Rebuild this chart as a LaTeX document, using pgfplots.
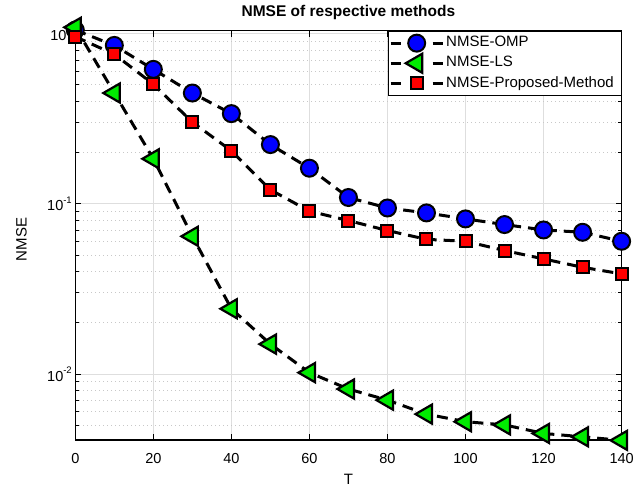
\documentclass[border=0pt]{standalone}
\usepackage{fontspec}
\setmainfont{Liberation Sans}
\usepackage{pgfplots}
\pgfplotsset{compat=1.18}
\definecolor{mgreen}{RGB}{0,235,0}
\definecolor{gridgray}{RGB}{222,222,222}
\definecolor{minorgray}{RGB}{200,200,200}

\begin{document}
\begin{tikzpicture}
\useasboundingbox (-75.3pt,-47pt) rectangle (557.7pt,440pt);
\clip (-75.3pt,-47pt) rectangle (557.7pt,440pt);
\fill[white] (-75.3pt,-47pt) rectangle (557.7pt,440pt);
\begin{axis}[
  at={(0pt,0pt)}, anchor=south west,
  scale only axis, width=546.3pt, height=409.3pt,
  ymode=log, log basis y=10,
  xmin=0, xmax=140, ymin=0.0041, ymax=1.041,
  xtick={0,20,...,140},
  /pgf/number format/assume math mode=true,
  yticklabel={\pgfmathtruncatemacro\e{round(\tick)}10\raisebox{7.5pt}{\fontsize{9.5}{10}\selectfont\e}},
  tick label style={font=\fontsize{14.5}{16}\selectfont, black},
  xticklabel style={anchor=base, yshift=-23.3pt},
  title={NMSE of respective methods},
  title style={font=\fontsize{15.5}{18}\selectfont\bfseries, at={(0.5,1)}, anchor=base, yshift=8pt},
  xlabel={T},
  xlabel style={font=\fontsize{15}{17}\selectfont, at={(axis description cs:0.5,0)}, anchor=base, yshift=-44.5pt},
  ylabel={NMSE},
  ylabel style={font=\fontsize{15}{17}\selectfont, at={(axis description cs:-0.089,0.49)}, anchor=base, rotate=0},
  axis line style={black, line width=1.3pt},
  tick style={black, line width=1pt},
  major tick length=6pt, minor tick length=3.7pt,
  xmajorgrids=true, ymajorgrids=true, yminorgrids=true,
  major grid style={gridgray, line width=1.1pt},
  minor grid style={minorgray, line width=0.9pt, dash pattern=on 1pt off 3pt},
  clip=false,
  legend style={at={(1,1)}, anchor=north east, draw=black, line width=0.8pt,
    fill=white, font=\fontsize{15}{17}\selectfont,
    inner xsep=1pt, inner ysep=2pt, row sep=0pt,
    nodes={inner xsep=2pt, inner ysep=3.1pt, text height=10.7pt, text depth=3.2pt}},
  legend cell align=left,
  legend image code/.code={%
    \draw[#1,solid] (0pt,0pt) -- (10pt,0pt);
    \draw[#1,solid] (42pt,0pt) -- (52pt,0pt);
    \pgfinterruptboundingbox
    \draw[#1] plot coordinates {(26pt,0pt)};
    \endpgfinterruptboundingbox
  },
  every axis plot/.append style={black, line width=3pt, dash pattern=on 11pt off 7pt},
]
\addplot[mark=*, mark size=8.5pt,
  mark options={solid, fill=blue, draw=black, line width=2pt}]
  coordinates {(0,1.05)(10,0.853)(20,0.617)(30,0.448)(40,0.339)(50,0.223)
  (60,0.162)(70,0.109)(80,0.0946)(90,0.0885)(100,0.0816)(110,0.0756)
  (120,0.0703)(130,0.0681)(140,0.0603)};
\addlegendentry{\makebox[172pt][l]{NMSE-OMP}}
\addplot[mark=triangle*, mark size=11pt,
  mark options={solid, rotate=90, fill=mgreen, draw=black, line width=2.2pt}]
  coordinates {(0,1.09)(10,0.448)(20,0.184)(30,0.0645)(40,0.0242)(50,0.0150)
  (60,0.0102)(70,0.00817)(80,0.00703)(90,0.00582)(100,0.00525)(110,0.00503)
  (120,0.00448)(130,0.00428)(140,0.00408)};
\addlegendentry{\makebox[172pt][l]{NMSE-LS}}
\addplot[mark=square*, mark size=6pt,
  mark options={solid, fill=red, draw=black, line width=2pt}]
  coordinates {(0,0.96)(10,0.757)(20,0.505)(30,0.302)(40,0.205)(50,0.121)
  (60,0.0906)(70,0.0798)(80,0.0697)(90,0.0619)(100,0.0603)(110,0.0532)
  (120,0.0475)(130,0.0424)(140,0.0388)};
\addlegendentry{\makebox[172pt][l]{NMSE-Proposed-Method}}
\end{axis}
\end{tikzpicture}
\end{document}
